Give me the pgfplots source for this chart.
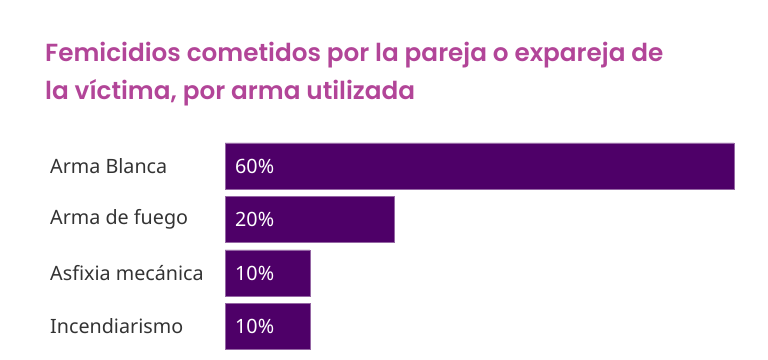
\documentclass[border=0pt]{standalone}
\usepackage{pgfplots}
\pgfplotsset{compat=1.18}
\usepackage{fontspec}
\setmainfont{Noto Sans}
\newfontfamily\titlefont{Poppins}[UprightFont=* SemiBold]
\definecolor{barc}{RGB}{78,0,104}
\definecolor{titc}{RGB}{178,69,152}
\definecolor{labc}{RGB}{51,51,51}
\newcommand\lfs{\fontsize{19.8}{22}\selectfont}
\begin{document}
\begin{tikzpicture}[x=1bp,y=1bp]
\useasboundingbox (0,0) rectangle (768,359);
\node[anchor=base west, inner sep=0, text=titc, font=\titlefont\fontsize{24.8}{28}\selectfont] at (45,298) {Femicidios cometidos por la pareja o expareja de};
\node[anchor=base west, inner sep=0, text=titc, font=\titlefont\fontsize{24.8}{28}\selectfont] at (45,260) {la víctima, por arma utilizada};
\begin{axis}[
  at={(225bp,5.75bp)}, anchor=south west,
  scale only axis, width=509bp, height=214bp,
  xbar, bar width=0.86, bar shift=0pt,
  xmin=0, xmax=60,
  ymin=-0.5, ymax=3.5, y dir=reverse,
  ytick={0,1,2,3},
  yticklabels={Arma Blanca, Arma de fuego, Asfixia mecánica, Incendiarismo},
  yticklabel style={anchor=west, xshift=-175bp, text=labc, font=\lfs, inner sep=0pt},
  major tick length=0pt,
  xtick=\empty,
  axis line style={draw=none},
  clip=false,
]
\addplot[fill=barc, draw=barc!60!white, line width=0.6bp] coordinates {(60,0) (20,1) (10,2) (10,3)};
\node[anchor=west, text=white, font=\lfs, inner sep=0pt] at (axis cs:0,0) [xshift=10bp] {60\%};
\node[anchor=west, text=white, font=\lfs, inner sep=0pt] at (axis cs:0,1) [xshift=10bp] {20\%};
\node[anchor=west, text=white, font=\lfs, inner sep=0pt] at (axis cs:0,2) [xshift=10bp] {10\%};
\node[anchor=west, text=white, font=\lfs, inner sep=0pt] at (axis cs:0,3) [xshift=10bp] {10\%};
\end{axis}
\end{tikzpicture}
\end{document}
